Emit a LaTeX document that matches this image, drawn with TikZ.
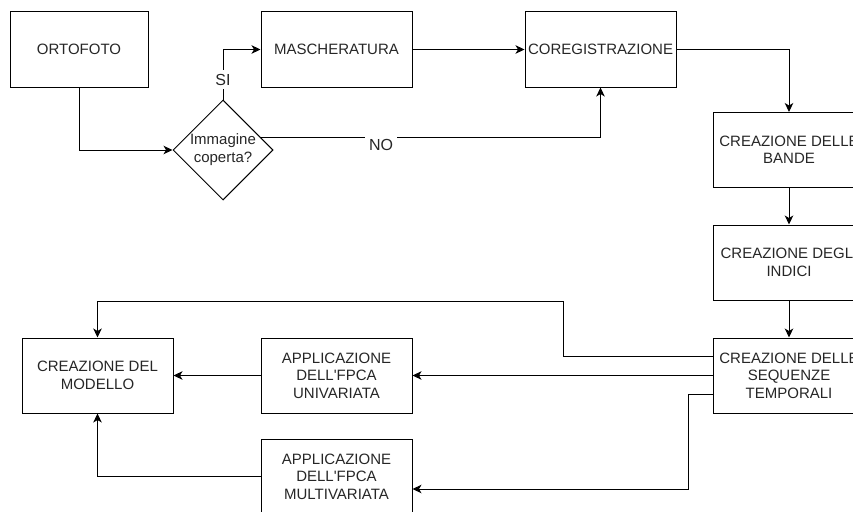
\documentclass[tikz,border=0pt]{standalone}
\usepackage{fontspec}
\setmainfont{Liberation Sans}
\usetikzlibrary{shapes.geometric,arrows.meta,calc}

\begin{document}
\begin{tikzpicture}[x=1pt,y=-1pt,line width=1pt,
    box/.style={draw,rectangle,minimum width=151pt,minimum height=75pt,
      inner sep=0pt,align=center,text=black!85,
      font=\fontsize{15}{17.5}\selectfont},
    decision/.style={draw,diamond,minimum width=100pt,minimum height=100pt,
      inner sep=0pt,align=center,text=black!85,
      font=\fontsize{15}{18}\selectfont},
    lbl/.style={fill=white,inner xsep=4pt,inner ysep=4pt,text=black!85,
      font=\fontsize{16}{18}\selectfont},
    flow/.style={-{Stealth[length=9pt,width=8.5pt,inset=2.5pt]}}]
  \useasboundingbox (0,0) rectangle (853,511);

  % top row
  \node[box,minimum width=138pt] (orto) at (79,49.5) {ORTOFOTO};
  \node[decision] (coperta) at (223,150) {Immagine\\coperta?};
  \node[box] (masch) at (336.5,49.5) {MASCHERATURA};
  \node[box] (coreg) at (600.5,49.5) {COREGISTRAZIONE};

  % right column
  \node[box,minimum width=152pt] (bande) at (789,150) {CREAZIONE DELLE\\BANDE};
  \node[box,minimum width=152pt] (indici) at (789,262.5) {CREAZIONE DEGLI\\INDICI};
  \node[box,minimum width=152pt] (seq) at (789,375.5) {CREAZIONE DELLE\\SEQUENZE\\TEMPORALI};

  % bottom left
  \node[box] (modello) at (97.5,375.5) {CREAZIONE DEL\\MODELLO};
  \node[box] (univ) at (336.5,375.5) {APPLICAZIONE\\DELL\textquotesingle FPCA\\UNIVARIATA};
  \node[box] (multi) at (336.5,476.5) {APPLICAZIONE\\DELL\textquotesingle FPCA\\MULTIVARIATA};

  \draw[flow] (orto.south) |- (coperta.west);
  \draw[flow] (coperta.north) |- node[lbl,pos=0.2] (si) {SI} (masch.west);
  \draw[flow] (masch.east) -- (coreg.west);
  \draw[flow] ($(coperta.north east)!0.5!(coperta.east)$) -| (coreg.south);
  \node[lbl] (no) at (381,145) {NO};
  \draw[flow] (coreg.east) -| (bande.north);
  \draw[flow] (bande.south) -- (indici.north);
  \draw[flow] (indici.south) -- (seq.north);

  \draw[flow] ([yshift=19pt]seq.west) -| (563,301) -| (modello.north);
  \draw[flow] (seq.west) -- (univ.east);
  \draw[flow] ([yshift=-19pt]seq.west) -| (688,489) -- ([yshift=-12.5pt]multi.east);
  \draw[flow] (univ.west) -- (modello.east);
  \draw[flow] (multi.west) -| (modello.south);
\end{tikzpicture}
\end{document}
